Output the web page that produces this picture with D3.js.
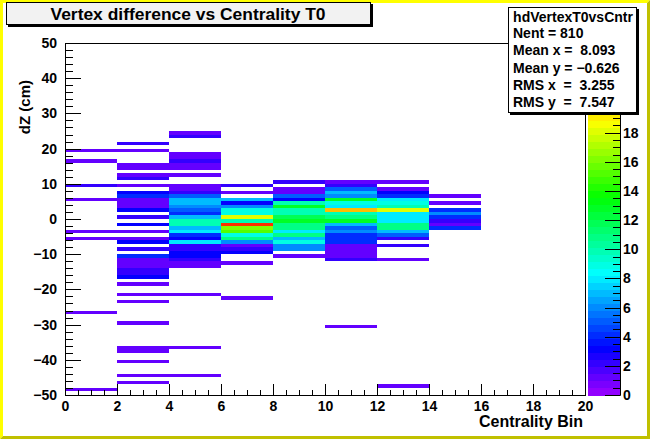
<!DOCTYPE html>
<html>
<head>
<meta charset="utf-8">
<script src="https://cdn.jsdelivr.net/npm/d3@7"></script>
<style>
  body { margin: 0; background: #fff; }
  text { font-family: "Liberation Sans", Arial, Helvetica, sans-serif; font-weight: bold; }
</style>
</head>
<body>
<div id="chart"></div>
<script>
const WIDTH = 650
const HEIGHT = 439
const FRAME_L = 65, FRAME_R = 585, FRAME_T = 43, FRAME_B = 395
const BAR_L = 588, BAR_R = 620

// bin contents: [lower edge of the dZ bin (1 cm wide), entries], one list per centrality bin
const CENT_LOW = [0, 2, 4, 6, 8, 10, 12, 14]
const cent0to2 = [[19,1],[16,1],[9,2],[5,1],[-4,1],[-6,1],[-27,1],[-49,1]]
const cent2to4 = [[21,2],[19,1],[15,1],[14,1],[12,1],[11,2],[9,1],[7,3],[6,4],[5,1],[4,1],[3,1],[2,3],[0,2],
  [-2,3],[-4,1],[-6,1],[-7,3],[-9,2],[-11,4],[-12,1],[-13,1],[-14,1],[-15,2],[-16,2],[-17,3],[-19,1],
  [-22,1],[-24,1],[-30,1],[-37,1],[-38,1],[-41,1],[-45,1],[-47,1]]
const cent4to6 = [[24,1],[23,2],[18,1],[17,1],[16,2],[15,1],[14,1],[12,1],[9,1],[8,1],[7,2],[6,5],[5,7],[4,7],
  [3,6],[2,5],[1,4],[0,7],[-1,10],[-2,10],[-3,7],[-4,8],[-5,4],[-6,3],[-7,8],[-8,2],[-9,2],[-10,3],[-11,3],
  [-12,2],[-13,1],[-14,1],[-22,1],[-37,1],[-45,1]]
const cent6to8 = [[9,2],[7,1],[5,7],[4,3],[3,6],[2,9],[1,9],[0,18],[-1,10],[-2,23],[-3,16],[-4,15],[-5,9],
  [-6,11],[-7,6],[-8,1],[-9,2],[-10,3],[-13,1],[-23,1]]
const cent8to10 = [[10,2],[8,1],[7,1],[6,5],[5,3],[4,10],[3,13],[2,10],[1,10],[0,12],[-1,13],[-2,11],[-3,11],
  [-4,8],[-5,11],[-6,7],[-7,9],[-8,6],[-9,6],[-11,1]]
const cent10to12 = [[10,1],[9,2],[8,5],[7,7],[6,6],[5,13],[4,9],[3,8],[2,20],[1,10],[0,11],[-1,13],[-2,7],
  [-3,5],[-4,6],[-5,4],[-6,4],[-7,4],[-8,1],[-9,1],[-10,1],[-11,1],[-12,2],[-31,1]]
const cent12to14 = [[10,1],[8,1],[7,3],[6,4],[5,8],[4,9],[3,10],[2,18],[1,8],[0,8],[-1,8],[-2,11],[-3,11],
  [-4,7],[-5,5],[-6,2],[-8,2],[-12,1],[-48,1]]
const cent14to16 = [[6,1],[4,1],[2,4],[1,6],[0,4],[-1,2],[-2,1],[-3,4]]
const COLUMNS = [cent0to2, cent2to4, cent4to6, cent6to8, cent8to10, cent10to12, cent12to14, cent14to16]

const X_TICKS = d3.range(0, 21, 2)
const Y_TICKS = d3.range(-50, 51, 10)
const Z_TICKS = d3.range(0, 25, 2)
const MAX_ENTRIES = 23
const Z_MAX = MAX_ENTRIES * 1.05 // marge haute comme ROOT

const TITLE = 'Vertex difference vs Centrality T0'
const X_TITLE = 'Centrality Bin'
const Y_TITLE = 'dZ (cm)'
const STATS_NAME = 'hdVertexT0vsCntr'
const STATS_LINES = ['Nent = 810', 'Mean x =  8.093', 'Mean y = \u22120.626', 'RMS x  =  3.255', 'RMS y  =  7.547']

const minus = d => d3.format('d')(d).replace('-', '\u2212')

const svg = d3.select('#chart').append('svg').attr('width', WIDTH).attr('height', HEIGHT)

// fond + bordure jaune en relief
svg.append('rect').attr('width', WIDTH).attr('height', HEIGHT).attr('fill', '#fff')
svg.append('path').attr('d', `M0,0H${WIDTH}L${WIDTH-3},3H3V${HEIGHT-3}L0,${HEIGHT}Z`).attr('fill', '#ffff00')
svg.append('path').attr('d', `M${WIDTH},0V${HEIGHT}H0L3,${HEIGHT-3}H${WIDTH-3}V3Z`).attr('fill', '#c0c000')

const x = d3.scaleLinear().domain([0, 20]).range([FRAME_L, FRAME_R])
const y = d3.scaleLinear().domain([-50, 50]).range([FRAME_B, FRAME_T])
const z = d3.scaleLinear().domain([0, Z_MAX]).range([FRAME_B, FRAME_T])

// palette ROOT (50 couleurs, violet -> rouge)
const N_COLORS = 50
const paletteColor = i => d3.hsl(280 - (i + 1) * 5.6, 1, 0.5).formatHex()
const colorOf = n => paletteColor(Math.min(N_COLORS - 1, Math.floor(0.01 + n * N_COLORS / Z_MAX)))

const cells = COLUMNS.flatMap((col, i) => col.map(([lo, n]) => ({ x0: CENT_LOW[i], lo, n })))

svg.append('g')
  .selectAll('rect')
  .data(cells)
  .join('rect')
  .attr('x', d => x(d.x0))
  .attr('width', d => x(d.x0 + 2) - x(d.x0))
  .attr('y', d => y(d.lo + 1))
  .attr('height', d => y(d.lo) - y(d.lo + 1))
  .attr('fill', d => colorOf(d.n))
  .attr('shape-rendering', 'crispEdges')

// cadre
svg.append('rect')
  .attr('x', FRAME_L).attr('y', FRAME_T)
  .attr('width', FRAME_R - FRAME_L).attr('height', FRAME_B - FRAME_T)
  .attr('fill', 'none').attr('stroke', '#000').attr('shape-rendering', 'crispEdges')

// axe Y
svg.append('g')
  .attr('transform', `translate(${FRAME_L},0)`)
  .call(d3.axisLeft(y).tickValues(d3.range(-50, 51, 2)).tickSize(-7.8).tickFormat(''))
  .call(g => g.select('.domain').remove())
svg.append('g')
  .attr('transform', `translate(${FRAME_L},0)`)
  .call(d3.axisLeft(y).tickValues(Y_TICKS).tickSize(-15.6).tickPadding(8).tickFormat(minus))
  .call(g => g.select('.domain').remove())
  .attr('font-size', 14)

// axe X
svg.append('g')
  .attr('transform', `translate(0,${FRAME_B})`)
  .call(d3.axisBottom(x).tickValues(d3.range(0, 20.01, 0.5)).tickSize(-5.3).tickFormat(''))
  .call(g => g.select('.domain').remove())
svg.append('g')
  .attr('transform', `translate(0,${FRAME_B})`)
  .call(d3.axisBottom(x).tickValues(X_TICKS).tickSize(-10.6).tickPadding(6).tickFormat(minus))
  .call(g => g.select('.domain').remove())
  .attr('font-size', 14)

svg.selectAll('.tick line').attr('stroke', '#000').attr('shape-rendering', 'crispEdges')
svg.selectAll('.tick text').attr('fill', '#000').attr('font-family', null)

svg.append('text')
  .attr('x', FRAME_R - 2).attr('y', 427)
  .attr('text-anchor', 'end').attr('font-size', 16)
  .text(X_TITLE)

svg.append('text')
  .attr('transform', `translate(30,80) rotate(-90)`)
  .attr('text-anchor', 'end').attr('font-size', 15)
  .text(Y_TITLE)

// echelle de couleur
const bands = d3.range(N_COLORS)
svg.append('g')
  .selectAll('rect')
  .data(bands)
  .join('rect')
  .attr('x', BAR_L)
  .attr('width', BAR_R - BAR_L)
  .attr('y', i => z((i + 1) * Z_MAX / N_COLORS))
  .attr('height', i => z(i * Z_MAX / N_COLORS) - z((i + 1) * Z_MAX / N_COLORS) + 0.5)
  .attr('fill', i => paletteColor(i))
  .attr('shape-rendering', 'crispEdges')

svg.append('g')
  .attr('transform', `translate(${BAR_R},0)`)
  .call(d3.axisRight(z).tickValues(d3.range(0, Z_MAX, 0.5)).tickSize(-7.5).tickFormat(''))
  .call(g => g.select('.domain').remove())
const zAxis = svg.append('g')
  .attr('transform', `translate(${BAR_R},0)`)
  .call(d3.axisRight(z).tickValues(Z_TICKS).tickSize(-15).tickPadding(3))
  .attr('font-size', 14)
zAxis.select('.domain').attr('stroke', '#000')
svg.selectAll('.tick line').attr('stroke', '#000').attr('shape-rendering', 'crispEdges')
svg.selectAll('.tick text').attr('fill', '#000').attr('font-family', null)

// titre
svg.append('rect').attr('x', 8).attr('y', 4).attr('width', 365).attr('height', 23).attr('fill', '#000')
svg.append('rect').attr('x', 6.5).attr('y', 2.5).attr('width', 364).attr('height', 22)
  .attr('fill', '#f2f2f2').attr('stroke', '#000')
svg.append('text')
  .attr('x', 188).attr('y', 19.5)
  .attr('text-anchor', 'middle').attr('font-size', 16)
  .attr('textLength', 275).attr('lengthAdjust', 'spacingAndGlyphs')
  .text(TITLE)

// boite de stats
svg.append('rect').attr('x', 510).attr('y', 9).attr('width', 129).attr('height', 106).attr('fill', '#000')
svg.append('rect').attr('x', 508.5).attr('y', 7.5).attr('width', 128).attr('height', 105)
  .attr('fill', '#fff').attr('stroke', '#000')
svg.append('text')
  .attr('x', 573).attr('y', 22)
  .attr('text-anchor', 'middle').attr('font-size', 14)
  .text(STATS_NAME)
svg.append('g')
  .selectAll('text')
  .data(STATS_LINES)
  .join('text')
  .attr('x', 513)
  .attr('y', (d, i) => 38 + i * 17.3)
  .attr('font-size', 14)
  .attr('xml:space', 'preserve')
  .style('white-space', 'pre')
  .text(d => d)
</script>
</body>
</html>
